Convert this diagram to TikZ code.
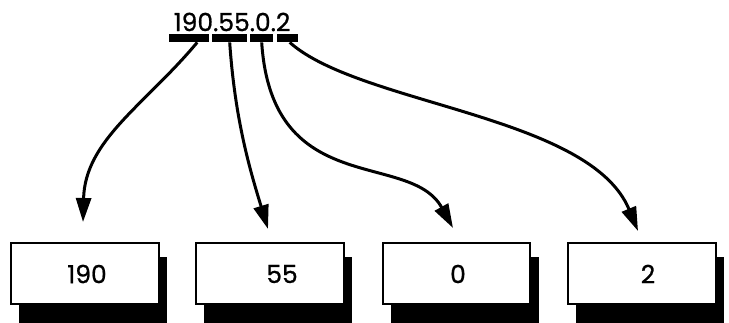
\documentclass[tikz,border=0pt]{standalone}
\usepackage{fontspec}
\newfontfamily\numfont{Poppins}[FakeBold=0.8]
\usetikzlibrary{arrows.meta}
\begin{document}
\begin{tikzpicture}[x=1pt,y=-1pt,
  octetbox/.style={draw, line width=1.8pt, fill=white, minimum width=148pt,
    minimum height=61pt, inner sep=0pt, anchor=north west},
  digits/.style={font=\numfont\fontsize{25}{25}\selectfont, inner sep=0pt},
  bar/.style={fill=black, inner sep=0pt, minimum height=8pt, anchor=north west},
  link/.style={line width=3pt, -{Triangle[length=24pt,width=15pt]}}
]
\useasboundingbox (0,0) rectangle (729,322);

% dotted-decimal address with its four octet bars
\node[digits] (addr) at (232,22) {190.55.0.2};
\node[bar, minimum width=40pt] (bar1) at (169,34) {};
\node[bar, minimum width=35pt] (bar2) at (212,34) {};
\node[bar, minimum width=23pt] (bar3) at (250,34) {};
\node[bar, minimum width=21pt] (bar4) at (277,34) {};

% drop shadows behind the octet boxes
\foreach \x in {10,195,382,567}
  \fill[black] (\x+9,257) rectangle (\x+157,330);

% octet boxes
\node[octetbox] (box1) at (10,242) {};
\node[octetbox] (box2) at (195,242) {};
\node[octetbox, minimum width=147pt] (box3) at (382,242) {};
\node[octetbox] (box4) at (567,242) {};

\node[digits] (n1) at (87,274) {190};
\node[digits] (n2) at (282,274) {55};
\node[digits] (n3) at (458,274) {0};
\node[digits] (n4) at (648,274) {2};

% arrow tips above the boxes
\coordinate (t1) at (83,222);
\coordinate (t2) at (268,229);
\coordinate (t3) at (453,228);
\coordinate (t4) at (638,231);

\draw[link] ([xshift=8pt]bar1.south) .. controls (145,105) and (85,140) .. (t1);
\draw[link] (bar2.south) .. controls (235,120) and (250,170) .. (t2);
\draw[link] (bar3.south) .. controls (272,200) and (410,150) .. (t3);
\draw[link] ([xshift=2pt]bar4.south) .. controls (360,105) and (590,115) .. (t4);
\end{tikzpicture}
\end{document}
